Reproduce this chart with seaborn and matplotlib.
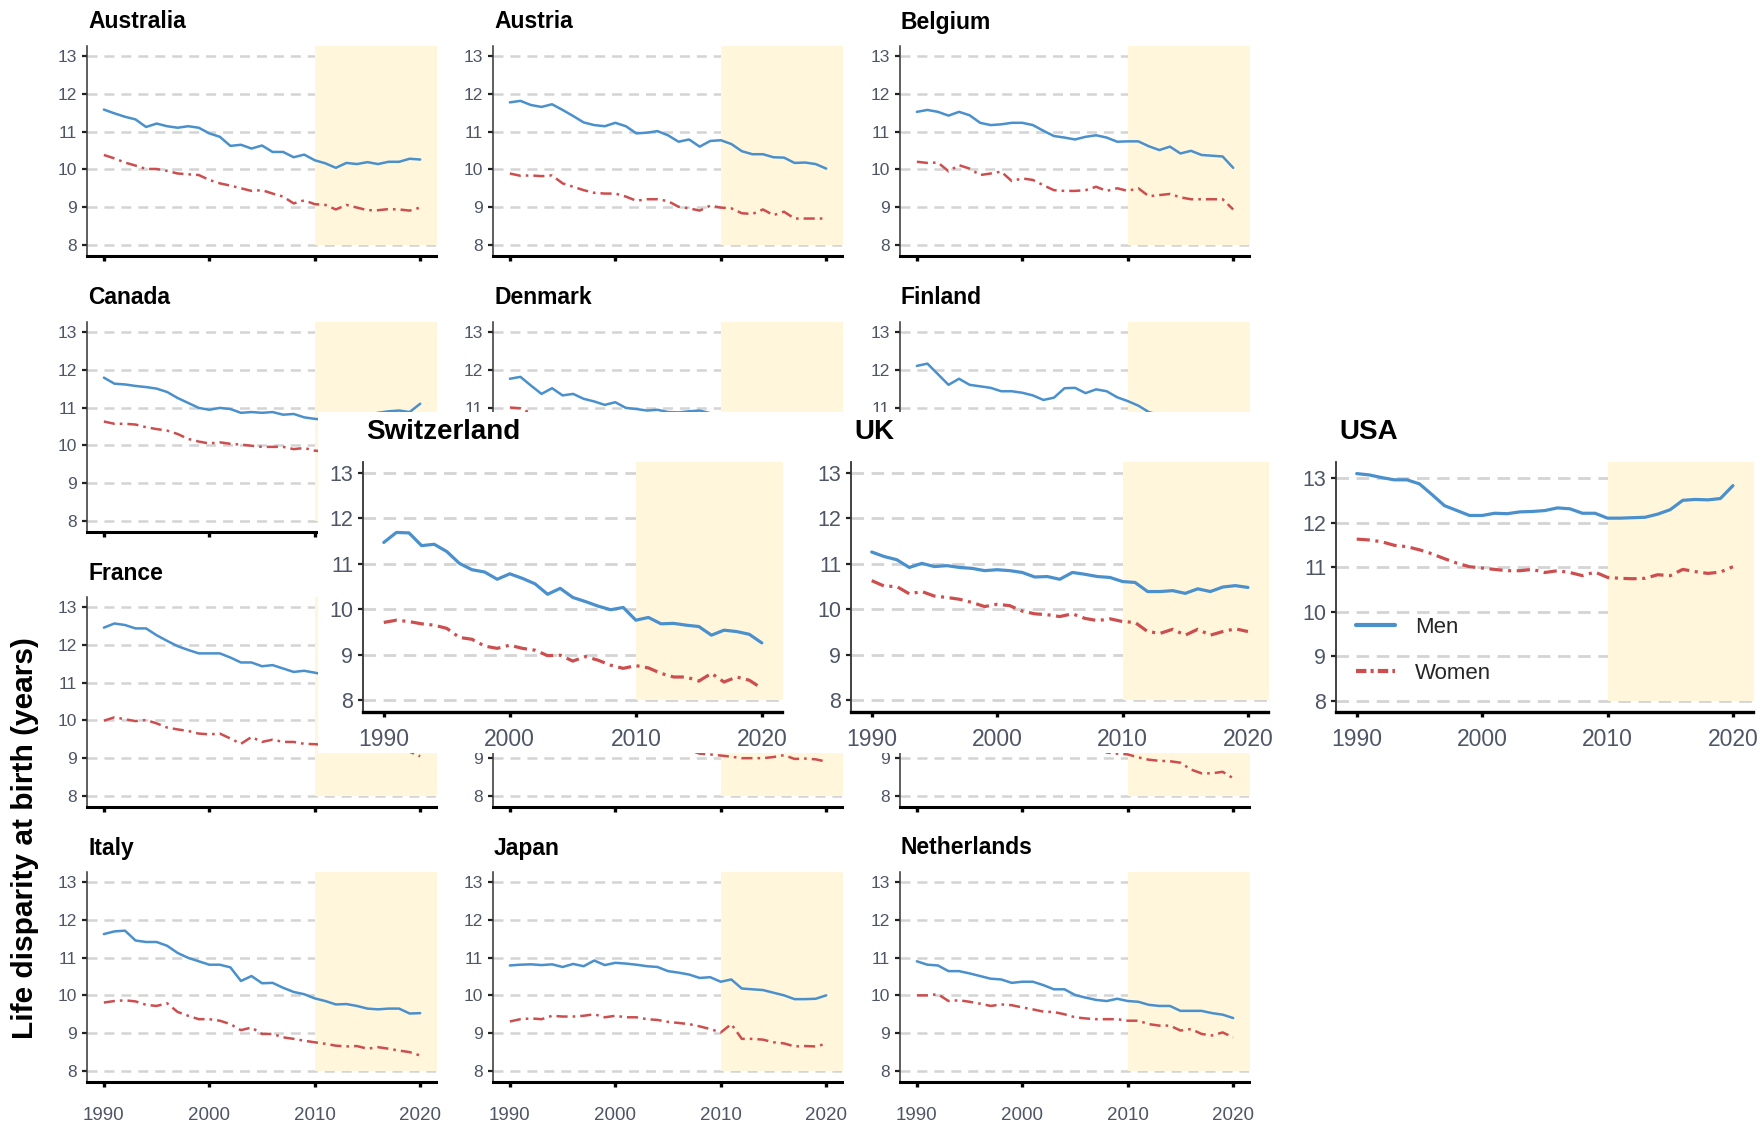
import matplotlib
matplotlib.use("Agg")
import matplotlib.pyplot as plt
import numpy as np
import pandas as pd
import seaborn as sns
from matplotlib.patches import Rectangle
from matplotlib.lines import Line2D

years = list(range(1990, 2021))

australia_men = [11.58, 11.48, 11.39, 11.32, 11.12, 11.21, 11.14, 11.10, 11.14, 11.10, 10.95, 10.86, 10.62, 10.65, 10.55, 10.63, 10.46, 10.46, 10.32, 10.39, 10.24, 10.16, 10.04, 10.17, 10.14, 10.19, 10.14, 10.20, 10.20, 10.28, 10.26]
australia_women = [10.38, 10.29, 10.18, 10.10, 10.01, 10.01, 9.96, 9.89, 9.87, 9.85, 9.72, 9.63, 9.57, 9.50, 9.43, 9.45, 9.36, 9.28, 9.10, 9.18, 9.08, 9.06, 8.94, 9.06, 8.99, 8.92, 8.92, 8.95, 8.94, 8.91, 8.99]

austria_men = [11.77, 11.81, 11.70, 11.65, 11.72, 11.57, 11.41, 11.24, 11.17, 11.14, 11.23, 11.14, 10.95, 10.97, 11.01, 10.90, 10.73, 10.79, 10.60, 10.75, 10.77, 10.67, 10.48, 10.40, 10.40, 10.32, 10.31, 10.17, 10.18, 10.14, 10.02]
austria_women = [9.89, 9.83, 9.84, 9.82, 9.84, 9.63, 9.54, 9.45, 9.38, 9.36, 9.36, 9.28, 9.17, 9.21, 9.21, 9.16, 9.01, 8.97, 8.91, 9.04, 8.99, 8.97, 8.84, 8.82, 8.94, 8.79, 8.88, 8.70, 8.70, 8.70, 8.70]

belgium_men = [11.52, 11.57, 11.52, 11.42, 11.52, 11.43, 11.23, 11.17, 11.19, 11.23, 11.23, 11.17, 11.02, 10.88, 10.84, 10.79, 10.86, 10.90, 10.84, 10.73, 10.74, 10.74, 10.61, 10.51, 10.60, 10.42, 10.49, 10.38, 10.36, 10.34, 10.04]
belgium_women = [10.20, 10.17, 10.18, 9.95, 10.11, 10.02, 9.85, 9.89, 9.94, 9.69, 9.76, 9.72, 9.58, 9.45, 9.43, 9.43, 9.45, 9.54, 9.43, 9.50, 9.43, 9.50, 9.29, 9.32, 9.35, 9.26, 9.21, 9.21, 9.21, 9.21, 8.94]

canada_men = [11.79, 11.63, 11.61, 11.57, 11.54, 11.50, 11.41, 11.25, 11.12, 10.99, 10.94, 10.99, 10.96, 10.86, 10.88, 10.86, 10.88, 10.81, 10.83, 10.74, 10.70, 10.68, 10.70, 10.72, 10.75, 10.80, 10.86, 10.90, 10.92, 10.88, 11.10]
canada_women = [10.63, 10.57, 10.57, 10.55, 10.48, 10.43, 10.39, 10.30, 10.17, 10.10, 10.05, 10.08, 10.04, 10.02, 9.99, 9.96, 9.96, 9.96, 9.90, 9.93, 9.86, 9.84, 9.82, 9.80, 9.80, 9.78, 9.76, 9.75, 9.74, 9.72, 9.85]

denmark_men = [11.76, 11.81, 11.58, 11.36, 11.51, 11.32, 11.36, 11.23, 11.16, 11.07, 11.14, 10.99, 10.96, 10.92, 10.94, 10.88, 10.87, 10.90, 10.92, 10.85, 10.80, 10.70, 10.62, 10.55, 10.50, 10.45, 10.38, 10.30, 10.25, 10.20, 10.15]
denmark_women = [11.00, 10.98, 10.85, 10.80, 10.78, 10.70, 10.65, 10.55, 10.50, 10.42, 10.40, 10.35, 10.30, 10.28, 10.20, 10.15, 10.10, 10.05, 10.00, 9.95, 9.90, 9.85, 9.75, 9.70, 9.65, 9.60, 9.55, 9.50, 9.45, 9.40, 9.35]

finland_men = [12.10, 12.16, 11.88, 11.60, 11.76, 11.60, 11.56, 11.52, 11.43, 11.43, 11.39, 11.32, 11.20, 11.26, 11.51, 11.52, 11.38, 11.48, 11.43, 11.27, 11.17, 11.05, 10.88, 10.80, 10.75, 10.70, 10.65, 10.55, 10.50, 10.45, 10.40]
finland_women = [10.60, 10.55, 10.50, 10.45, 10.45, 10.40, 10.35, 10.30, 10.30, 10.25, 10.20, 10.15, 10.10, 10.10, 10.05, 10.00, 9.95, 9.95, 9.90, 9.85, 9.85, 9.80, 9.75, 9.70, 9.70, 9.65, 9.60, 9.55, 9.55, 9.50, 9.45]

france_men = [12.45, 12.56, 12.52, 12.43, 12.43, 12.25, 12.10, 11.96, 11.86, 11.77, 11.77, 11.77, 11.66, 11.53, 11.53, 11.43, 11.46, 11.37, 11.28, 11.31, 11.26, 11.20, 11.15, 11.10, 11.05, 11.00, 10.95, 10.90, 10.85, 10.80, 10.90]
france_women = [9.99, 10.08, 10.03, 9.98, 10.01, 9.92, 9.81, 9.76, 9.72, 9.65, 9.63, 9.65, 9.52, 9.38, 9.56, 9.43, 9.49, 9.43, 9.43, 9.38, 9.37, 9.35, 9.32, 9.30, 9.28, 9.25, 9.22, 9.20, 9.18, 9.17, 9.05]

germany_men = [11.60, 11.55, 11.50, 11.45, 11.40, 11.35, 11.30, 11.25, 11.20, 11.15, 11.10, 11.05, 11.00, 10.95, 10.90, 10.85, 10.80, 10.78, 10.75, 10.72, 10.70, 10.65, 10.62, 10.60, 10.58, 10.55, 10.52, 10.50, 10.48, 10.45, 10.40]
germany_women = [10.30, 10.25, 10.20, 10.10, 10.05, 10.00, 9.90, 9.80, 9.75, 9.70, 9.60, 9.55, 9.50, 9.45, 9.40, 9.35, 9.30, 9.22, 9.12, 9.10, 9.07, 9.04, 9.00, 9.00, 9.00, 9.03, 9.08, 8.98, 8.99, 8.97, 8.91]

ireland_men = [11.80, 11.75, 11.70, 11.65, 11.60, 11.55, 11.50, 11.45, 11.40, 11.30, 11.20, 11.10, 11.00, 10.90, 10.85, 10.80, 10.70, 10.60, 10.55, 10.50, 10.45, 10.40, 10.35, 10.30, 10.25, 10.20, 10.10, 10.00, 9.95, 9.90, 9.80]
ireland_women = [10.40, 10.35, 10.30, 10.25, 10.20, 10.15, 10.10, 10.05, 10.00, 9.95, 9.90, 9.85, 9.80, 9.70, 9.60, 9.50, 9.45, 9.35, 9.15, 9.12, 9.10, 9.02, 8.96, 8.93, 8.92, 8.88, 8.70, 8.60, 8.60, 8.64, 8.47]

italy_men = [11.62, 11.69, 11.71, 11.45, 11.41, 11.41, 11.31, 11.12, 10.99, 10.90, 10.81, 10.81, 10.74, 10.38, 10.51, 10.32, 10.33, 10.20, 10.09, 10.03, 9.92, 9.85, 9.76, 9.77, 9.72, 9.65, 9.63, 9.65, 9.65, 9.52, 9.53]
italy_women = [9.81, 9.85, 9.87, 9.84, 9.75, 9.72, 9.79, 9.56, 9.46, 9.37, 9.37, 9.33, 9.24, 9.08, 9.15, 8.98, 8.98, 8.89, 8.85, 8.80, 8.76, 8.72, 8.67, 8.65, 8.66, 8.59, 8.63, 8.59, 8.54, 8.50, 8.41]

japan_men = [10.79, 10.81, 10.82, 10.80, 10.82, 10.75, 10.83, 10.77, 10.92, 10.80, 10.86, 10.84, 10.81, 10.77, 10.75, 10.64, 10.60, 10.55, 10.46, 10.48, 10.36, 10.42, 10.18, 10.16, 10.14, 10.07, 10.00, 9.90, 9.90, 9.91, 10.00]
japan_women = [9.31, 9.37, 9.39, 9.37, 9.46, 9.44, 9.44, 9.46, 9.50, 9.42, 9.46, 9.42, 9.42, 9.37, 9.35, 9.30, 9.27, 9.24, 9.18, 9.11, 9.02, 9.24, 8.85, 8.85, 8.83, 8.76, 8.73, 8.65, 8.66, 8.65, 8.72]

netherlands_men = [10.90, 10.81, 10.79, 10.64, 10.64, 10.58, 10.51, 10.44, 10.42, 10.33, 10.36, 10.36, 10.27, 10.16, 10.16, 10.01, 9.94, 9.88, 9.85, 9.91, 9.85, 9.83, 9.75, 9.72, 9.72, 9.59, 9.59, 9.59, 9.53, 9.49, 9.40]
netherlands_women = [10.00, 10.00, 10.03, 9.85, 9.87, 9.83, 9.78, 9.72, 9.76, 9.74, 9.68, 9.63, 9.57, 9.56, 9.50, 9.42, 9.39, 9.37, 9.37, 9.37, 9.33, 9.33, 9.24, 9.20, 9.20, 9.07, 9.11, 8.98, 8.94, 9.02, 8.89]

switzerland_men = [11.47, 11.69, 11.68, 11.40, 11.43, 11.27, 11.01, 10.87, 10.82, 10.66, 10.78, 10.68, 10.56, 10.33, 10.46, 10.26, 10.17, 10.07, 9.99, 10.04, 9.76, 9.82, 9.68, 9.69, 9.65, 9.62, 9.43, 9.54, 9.51, 9.45, 9.26]
switzerland_women = [9.71, 9.76, 9.73, 9.68, 9.65, 9.58, 9.38, 9.34, 9.19, 9.14, 9.21, 9.14, 9.10, 8.98, 8.99, 8.86, 8.96, 8.88, 8.77, 8.70, 8.76, 8.71, 8.59, 8.51, 8.51, 8.42, 8.59, 8.40, 8.51, 8.44, 8.26]

uk_men = [11.26, 11.16, 11.09, 10.92, 11.01, 10.94, 10.96, 10.92, 10.90, 10.85, 10.87, 10.85, 10.81, 10.71, 10.72, 10.66, 10.81, 10.77, 10.72, 10.70, 10.61, 10.59, 10.39, 10.39, 10.41, 10.35, 10.45, 10.39, 10.49, 10.52, 10.48]
uk_women = [10.63, 10.51, 10.50, 10.34, 10.39, 10.29, 10.26, 10.22, 10.15, 10.06, 10.11, 10.08, 9.96, 9.90, 9.88, 9.84, 9.90, 9.80, 9.75, 9.79, 9.73, 9.71, 9.51, 9.47, 9.56, 9.43, 9.56, 9.43, 9.51, 9.57, 9.51]

usa_men = [13.10, 13.07, 13.01, 12.96, 12.96, 12.87, 12.63, 12.38, 12.27, 12.16, 12.16, 12.21, 12.20, 12.24, 12.25, 12.27, 12.33, 12.31, 12.21, 12.21, 12.10, 12.10, 12.11, 12.12, 12.19, 12.29, 12.50, 12.52, 12.51, 12.54, 12.83]
usa_women = [11.63, 11.61, 11.57, 11.49, 11.46, 11.39, 11.30, 11.19, 11.09, 11.01, 10.98, 10.95, 10.92, 10.92, 10.95, 10.88, 10.92, 10.88, 10.81, 10.89, 10.77, 10.75, 10.74, 10.75, 10.83, 10.81, 10.95, 10.90, 10.86, 10.89, 11.01]

small_countries = ["Australia", "Austria", "Belgium", "Canada", "Denmark", "Finland",
                   "France", "Germany", "Ireland", "Italy", "Japan", "Netherlands"]
small_men = [australia_men, austria_men, belgium_men, canada_men, denmark_men, finland_men,
             france_men, germany_men, ireland_men, italy_men, japan_men, netherlands_men]
small_women = [australia_women, austria_women, belgium_women, canada_women, denmark_women, finland_women,
               france_women, germany_women, ireland_women, italy_women, japan_women, netherlands_women]
big_countries = ["Switzerland", "UK", "USA"]
big_men = [switzerland_men, uk_men, usa_men]
big_women = [switzerland_women, uk_women, usa_women]

y_ticks = [8, 9, 10, 11, 12, 13]
x_ticks = [1990, 2000, 2010, 2020]
sex_labels = ["Men", "Women"]
shade_start = 2010
shade_floor = 8

sns.set_theme(style="white")
plt.rcParams['font.family'] = ['Liberation Sans', 'DejaVu Sans']
plt.rcParams['lines.scale_dashes'] = False

W, H = 1764, 1124
fig = plt.figure(figsize=(W / 100, H / 100), dpi=100)

MEN_C = "#4A90CD"
WOMEN_C = "#CC4E4E"
SHADE_C = "#FFF6DC"
GRID_C = "#D4D4D4"
TICK_C = "#4D5566"

# highlighted row cover box (pixels, top-left origin)
COVER = (318, 412, W, 753)


def px_axes(left, top, width, height, z):
    return fig.add_axes([left / W, 1 - (top + height) / H, width / W, height / H], zorder=z)


def draw_panel(ax, name, men, women, ylim, xlim, big, xlabels, title_dy, title_dx):
    df = pd.DataFrame({
        "year": years * 2,
        "value": list(men) + list(women),
        "sex": [sex_labels[0]] * len(years) + [sex_labels[1]] * len(years),
    })
    lw = 2.3 if big else 1.8
    wd = (9.5, 4.0, 2.2, 4.0) if big else (8.0, 3.6, 1.9, 3.6)
    ax.fill_between([shade_start, xlim[1] + 2], shade_floor, ylim[1] + 2,
                    color=SHADE_C, lw=0, zorder=1)
    sns.lineplot(data=df, x="year", y="value", hue="sex", style="sex",
                 palette={"Men": MEN_C, "Women": WOMEN_C},
                 dashes={"Men": "", "Women": wd}, linewidth=lw,
                 errorbar=None, legend=False, ax=ax, zorder=3)
    ax.set_xlim(*xlim)
    ax.set_ylim(*ylim)
    ax.set_yticks(y_ticks)
    ax.set_xticks(x_ticks)
    ax.set_xlabel("")
    ax.set_ylabel("")
    ax.set_axisbelow(True)
    glw = 2.0 if big else 1.8
    gdash = (9.0, 5.5) if big else (7.2, 5.0)
    ax.grid(axis="y", color=GRID_C, lw=glw, linestyle=(0, gdash))
    ax.grid(axis="x", visible=False)
    for s in ["top", "right"]:
        ax.spines[s].set_visible(False)
    ax.spines["left"].set_color("#333333")
    ax.spines["left"].set_linewidth(1.3 if big else 1.1)
    ax.spines["bottom"].set_color("black")
    ax.spines["bottom"].set_linewidth(2.4 if big else 2.2)
    fs = 15.5 if big else 12.5
    ax.tick_params(axis="y", length=3.5, width=1.6, color="#222222", labelcolor=TICK_C,
                   labelsize=fs, pad=3.5, left=True)
    ax.tick_params(axis="x", length=3.8, width=2.4, color="black", labelcolor=TICK_C,
                   labelsize=(16.5 if big else 13.5), pad=(8 if big else 14), bottom=True)
    if not xlabels:
        ax.set_xticklabels([])
    ax.set_yticklabels([str(t) for t in y_ticks])
    return ax.text(title_dx, 1 + title_dy, name, transform=ax.transAxes, ha="left", va="center",
                   fontsize=(20 if big else 16.5), fontweight="bold", color="black")


# small panels: 4 rows x 3 columns
col_left = [87, 493, 900]
row_top = [46, 322, 597, 872]
sw, sh = 349, 210
small_axes = []
small_titles = []
for i, name in enumerate(small_countries):
    r, c = divmod(i, 3)
    ax = px_axes(col_left[c], row_top[r], sw, sh, 0)
    t = draw_panel(ax, name, small_men[i], small_women[i], (7.71, 13.26), (1988.4, 2021.5),
                   big=False, xlabels=(r == 3), title_dy=24 / sh, title_dx=1 / sw)
    small_axes.append(ax)
    small_titles.append(t)

# white cover for the highlighted row
fig.add_artist(Rectangle((COVER[0] / W, 1 - COVER[3] / H), (COVER[2] - COVER[0]) / W,
                         (COVER[3] - COVER[1]) / H, transform=fig.transFigure,
                         facecolor="white", edgecolor="none", zorder=5))

big_left = [363, 851, 1336]
big_w = [419, 417, 417]
big_ylim = [(7.74, 13.24), (7.74, 13.24), (7.75, 13.36)]
bh = 250
big_axes = []
for i, name in enumerate(big_countries):
    ax = px_axes(big_left[i], 462, big_w[i], bh, 10)
    draw_panel(ax, name, big_men[i], big_women[i], big_ylim[i], (1988.35, 2021.6),
               big=True, xlabels=True, title_dy=30 / bh, title_dx=3 / big_w[i])
    big_axes.append(ax)

# legend in USA panel
usa_ax = big_axes[2]
handles = [Line2D([], [], color=MEN_C, lw=3.0),
           Line2D([], [], color=WOMEN_C, lw=3.0, linestyle=(0, (7.5, 3.0, 2.2, 3.0)))]
usa_ax.legend(handles, sex_labels, loc="center left", bbox_to_anchor=(20 / 417, 61.5 / 250),
              frameon=False, fontsize=16, handlelength=1.75, handletextpad=0.9,
              labelspacing=1.15, borderpad=0, borderaxespad=0)

fig.text(25 / W, 1 - 838 / H, "Life disparity at birth (years)", rotation=90,
         ha="center", va="center", fontsize=21.5, fontweight="bold", color="black")

# texts of the small panels that sit completely under the white cover are not shown
fig.canvas.draw()
renderer = fig.canvas.get_renderer()
cx0, cy0 = COVER[0], H - COVER[3]
cx1, cy1 = COVER[2], H - COVER[1]
for ax, t in zip(small_axes, small_titles):
    for txt in list(ax.get_yticklabels()) + list(ax.get_xticklabels()) + [t]:
        if not txt.get_visible() or txt.get_text() == "":
            continue
        bb = txt.get_window_extent(renderer)
        if bb.x0 >= cx0 and bb.x1 <= cx1 and bb.y0 >= cy0 and bb.y1 <= cy1:
            txt.set_visible(False)

fig.savefig("out.png", dpi=100, facecolor="white")
